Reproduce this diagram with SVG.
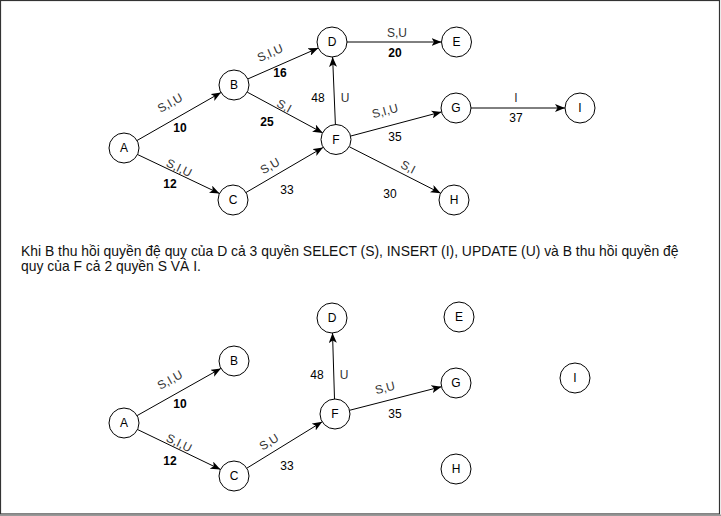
<svg xmlns="http://www.w3.org/2000/svg" width="721" height="516" viewBox="0 0 721 516">
<defs>
<marker id="arr" viewBox="0 0 10 8" refX="10" refY="4" markerWidth="10" markerHeight="8" markerUnits="userSpaceOnUse" orient="auto">
<path d="M0,0 L10,4 L0,8 L2.5,4 Z" fill="#000"/>
</marker>
</defs>
<style>
.n circle{fill:#fff;stroke:#000;stroke-width:1}
.n text{font-family:"Liberation Sans",Arial,sans-serif;font-size:12px;fill:#000;text-anchor:middle;dominant-baseline:central}
.e line{stroke:#000;stroke-width:1;marker-end:url(#arr)}
.lb{font-family:"Liberation Sans",Arial,sans-serif;font-size:12px;fill:#333;text-anchor:middle;dominant-baseline:central}
.num{font-family:"Liberation Sans",Arial,sans-serif;font-size:12px;fill:#000;text-anchor:middle;dominant-baseline:central}
.b{font-weight:bold}
.para{font-family:"Liberation Sans",Arial,sans-serif;font-size:13.9px;fill:#111}
</style>
<rect x="0.5" y="0.5" width="719" height="513.5" fill="#fff" stroke="#333" stroke-width="1.2"/>
<rect x="0" y="514.5" width="721" height="1.5" fill="#999"/>

<g id="connectors" class="e">
<line x1="137" y1="140.5" x2="221" y2="92.5"/>
<line x1="137.5" y1="154.5" x2="219.5" y2="193.5"/>
<line x1="247.7" y1="79" x2="318.3" y2="48"/>
<line x1="247.2" y1="92.1" x2="322.8" y2="132.9"/>
<line x1="246" y1="192.5" x2="323" y2="147.5"/>
<line x1="335.4" y1="124.5" x2="332.6" y2="57"/>
<line x1="347" y1="42" x2="441.5" y2="42"/>
<line x1="350.5" y1="136.1" x2="441.5" y2="111.9"/>
<line x1="349.4" y1="146.8" x2="440.6" y2="193.2"/>
<line x1="471" y1="108" x2="565" y2="108"/>

<line x1="137.1" y1="415.6" x2="220.9" y2="368.4"/>
<line x1="137.5" y1="429.5" x2="220.5" y2="469.5"/>
<line x1="246.8" y1="468.2" x2="322.2" y2="421.8"/>
<line x1="334.5" y1="399" x2="332.5" y2="333"/>
<line x1="349.5" y1="410.3" x2="441.5" y2="386.7"/>
</g>

<g id="labels">
<text class="lb" transform="translate(170,103) rotate(-29.8)">S,I,U</text>
<text class="num b" x="180" y="128">10</text>
<text class="lb" transform="translate(179,168) rotate(25.5)">S,I,U</text>
<text class="num b" x="170" y="184">12</text>
<text class="lb" transform="translate(270,53) rotate(-23.7)">S,I,U</text>
<text class="num b" x="280" y="73">16</text>
<text class="lb" transform="translate(284,106) rotate(28.3)">S,I</text>
<text class="num b" x="267" y="122">25</text>
<text class="lb" transform="translate(270,166) rotate(-30.2)">S,U</text>
<text class="num" x="287" y="190">33</text>
<text class="num" x="318" y="98">48</text>
<text class="lb" x="345" y="98">U</text>
<text class="lb" x="397" y="33">S,U</text>
<text class="num b" x="395" y="53">20</text>
<text class="lb" transform="translate(385,111) rotate(-15)">S,I,U</text>
<text class="num" x="395" y="137">35</text>
<text class="lb" transform="translate(408,167) rotate(27)">S,I</text>
<text class="num" x="390" y="194">30</text>
<text class="lb" x="516" y="98">I</text>
<text class="num" x="516" y="118">37</text>

<text class="lb" transform="translate(170,380) rotate(-29.4)">S,I,U</text>
<text class="num b" x="180" y="404">10</text>
<text class="lb" transform="translate(179,443) rotate(25.7)">S,I,U</text>
<text class="num b" x="170" y="461">12</text>
<text class="lb" transform="translate(269,442) rotate(-31.5)">S,U</text>
<text class="num" x="287" y="466">33</text>
<text class="num" x="317" y="375">48</text>
<text class="lb" x="344" y="375">U</text>
<text class="lb" transform="translate(385,388) rotate(-14.4)">S,U</text>
<text class="num" x="395" y="414">35</text>
</g>

<g id="caption">
<text class="para" x="21" y="256">Khi B thu hồi quyền đệ quy của D cả 3 quyền SELECT (S), INSERT (I), UPDATE (U) và B thu hồi quyền đệ</text>
<text class="para" x="21" y="271">quy của F cả 2 quyền S VÀ I.</text>
</g>

<g id="g1-A" class="n"><circle cx="124" cy="148" r="15"/><text x="124" y="148">A</text></g>
<g id="g1-B" class="n"><circle cx="234" cy="85" r="15"/><text x="234" y="85">B</text></g>
<g id="g1-C" class="n"><circle cx="233" cy="200" r="15"/><text x="233" y="200">C</text></g>
<g id="g1-D" class="n"><circle cx="332" cy="42" r="15"/><text x="332" y="42">D</text></g>
<g id="g1-E" class="n"><circle cx="456.5" cy="42" r="15"/><text x="456.5" y="42">E</text></g>
<g id="g1-F" class="n"><circle cx="336" cy="139.5" r="15"/><text x="336" y="139.5">F</text></g>
<g id="g1-G" class="n"><circle cx="456" cy="108" r="15"/><text x="456" y="108">G</text></g>
<g id="g1-H" class="n"><circle cx="454" cy="200" r="15"/><text x="454" y="200">H</text></g>
<g id="g1-I" class="n"><circle cx="580" cy="108" r="15"/><text x="580" y="108">I</text></g>

<g id="g2-A" class="n"><circle cx="124" cy="423" r="15"/><text x="124" y="423">A</text></g>
<g id="g2-B" class="n"><circle cx="234" cy="361" r="15"/><text x="234" y="361">B</text></g>
<g id="g2-C" class="n"><circle cx="234" cy="476" r="15"/><text x="234" y="476">C</text></g>
<g id="g2-D" class="n"><circle cx="332" cy="318" r="15"/><text x="332" y="318">D</text></g>
<g id="g2-E" class="n"><circle cx="459" cy="317" r="15"/><text x="459" y="317">E</text></g>
<g id="g2-F" class="n"><circle cx="335" cy="414" r="15"/><text x="335" y="414">F</text></g>
<g id="g2-G" class="n"><circle cx="456" cy="383" r="15"/><text x="456" y="383">G</text></g>
<g id="g2-H" class="n"><circle cx="456" cy="469" r="15"/><text x="456" y="469">H</text></g>
<g id="g2-I" class="n"><circle cx="575" cy="378" r="15"/><text x="575" y="378">I</text></g>
</svg>
